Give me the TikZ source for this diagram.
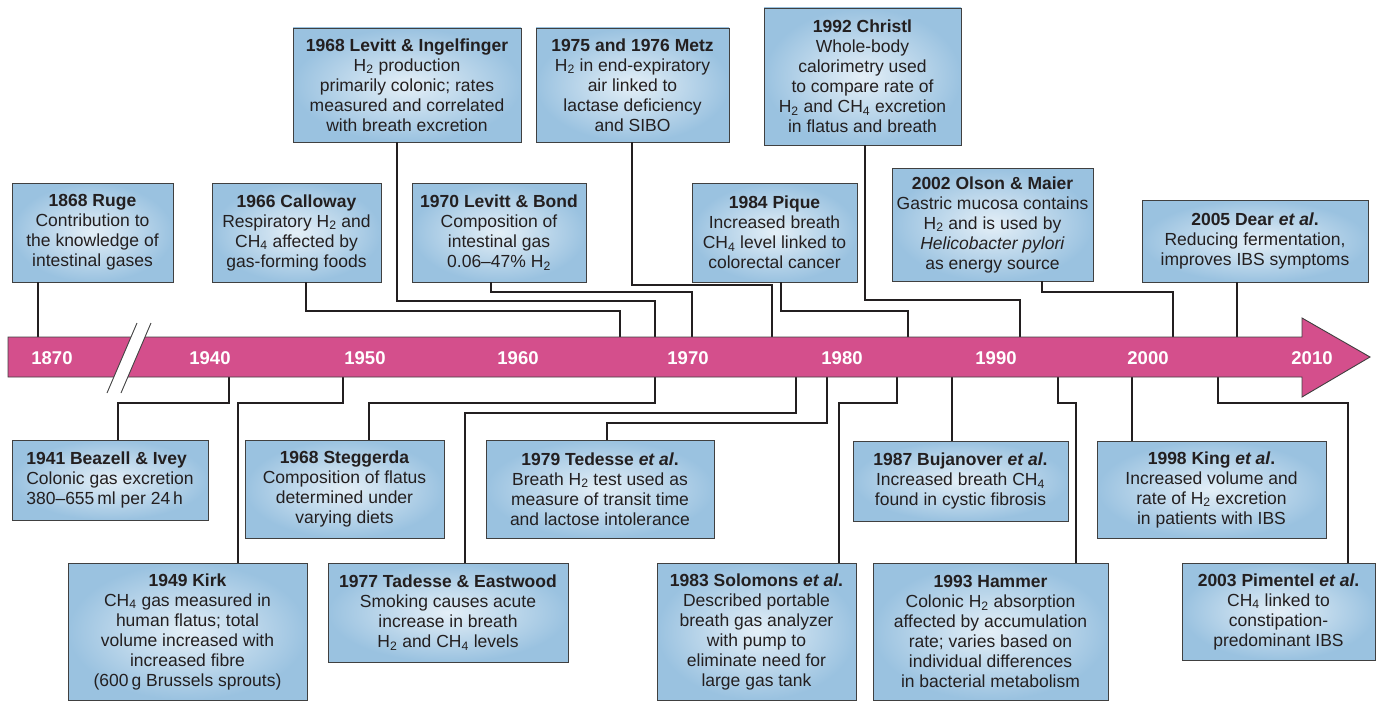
\documentclass[tikz,border=0pt]{standalone}
\usepackage{fontspec}
\setmainfont{Liberation Sans}
\usetikzlibrary{calc}
\definecolor{barpink}{RGB}{212,79,140}
\definecolor{boxout}{RGB}{154,194,224}
\definecolor{boxin}{RGB}{228,239,247}
\definecolor{edgegray}{RGB}{64,64,64}
\definecolor{ink}{RGB}{35,31,32}
\newcommand\subs[1]{\textsubscript{#1}}
\begin{document}
\begin{tikzpicture}[x=1pt,y=-1pt,
  evbox/.style={draw=edgegray, line width=0.9pt, inner color=boxin, outer color=boxout,
    align=center, text=ink, font=\fontsize{17.5}{20}\selectfont, inner sep=0pt},
  link/.style={draw=ink, line width=1.1pt},
  yearlbl/.style={text=white, font=\bfseries\fontsize{18.5}{20}\selectfont, inner sep=0pt}]
\useasboundingbox (0,0) rectangle (1378,701);

% ---------- top boxes ----------
\node[evbox, minimum width=161pt, minimum height=99pt] (ruge) at (92.5,232.5)
  {\textbf{1868 Ruge}\\Contribution to\\the knowledge of\\intestinal gases};
\node[evbox, minimum width=169pt, minimum height=99pt] (calloway) at (296.5,232.5)
  {\textbf{1966 Calloway}\\Respiratory H\subs{2} and\\CH\subs{4} affected by\\gas-forming foods};
\node[evbox, minimum width=228pt, minimum height=114pt] (levittI) at (407,85)
  {\textbf{1968 Levitt \& Ingelfinger}\\H\subs{2} production\\primarily colonic; rates\\measured and correlated\\with breath excretion};
\node[evbox, minimum width=174pt, minimum height=99pt] (levittB) at (499,232.5)
  {\textbf{1970 Levitt \& Bond}\\Composition of\\intestinal gas\\0.06–47\% H\subs{2}};
\node[evbox, minimum width=193pt, minimum height=114pt] (metz) at (632.5,85)
  {\textbf{1975 and 1976 Metz}\\H\subs{2} in end-expiratory\\air linked to\\lactase deficiency\\and SIBO};
\node[evbox, minimum width=165pt, minimum height=99pt] (pique) at (774.5,232.5)
  {\textbf{1984 Pique}\\Increased breath\\CH\subs{4} level linked to\\colorectal cancer};
\node[evbox, minimum width=197pt, minimum height=137pt] (christl) at (862.5,76.5)
  {\textbf{1992 Christl}\\Whole-body\\calorimetry used\\to compare rate of\\H\subs{2} and CH\subs{4} excretion\\in flatus and breath};
\node[evbox, minimum width=201pt, minimum height=113pt] (olson) at (992.5,224.5)
  {\textbf{2002 Olson \& Maier}\\Gastric mucosa contains\\H\subs{2} and is used by\\\textit{Helicobacter pylori}\\as energy source};
\node[evbox, minimum width=226pt, minimum height=82pt] (dear) at (1255,241)
  {\textbf{2005 Dear \textit{et al}.}\\Reducing fermentation,\\improves IBS symptoms};

% ---------- bottom boxes ----------
\node[evbox, align=left, minimum width=196pt, minimum height=80pt] (beazell) at (110,480)
  {\textbf{1941 Beazell \& Ivey}\\Colonic gas excretion\\380–655\,ml per 24\,h};
\node[evbox, minimum width=199pt, minimum height=98pt] (steggerda) at (344.5,489)
  {\textbf{1968 Steggerda}\\Composition of flatus\\determined under\\varying diets};
\node[evbox, minimum width=239pt, minimum height=137pt] (kirk) at (187.5,631.5)
  {\textbf{1949 Kirk}\\CH\subs{4} gas measured in\\human flatus; total\\volume increased with\\increased fibre\\(600\,g Brussels sprouts)};
\node[evbox, minimum width=240pt, minimum height=99pt] (tadeast) at (448,612.5)
  {\textbf{1977 Tadesse \& Eastwood}\\Smoking causes acute\\increase in breath\\H\subs{2} and CH\subs{4} levels};
\node[evbox, minimum width=228pt, minimum height=98pt] (tedesse) at (600,489)
  {\textbf{1979 Tedesse \textit{et al}.}\\Breath H\subs{2} test used as\\measure of transit time\\and lactose intolerance};
\node[evbox, minimum width=199pt, minimum height=137pt] (solomons) at (756.5,631.5)
  {\textbf{1983 Solomons \textit{et al}.}\\Described portable\\breath gas analyzer\\with pump to\\eliminate need for\\large gas tank};
\node[evbox, minimum width=215pt, minimum height=80pt] (bujanover) at (960.5,481)
  {\textbf{1987 Bujanover \textit{et al}.}\\Increased breath CH\subs{4}\\found in cystic fibrosis};
\node[evbox, minimum width=235pt, minimum height=137pt] (hammer) at (990.5,631.5)
  {\textbf{1993 Hammer}\\Colonic H\subs{2} absorption\\affected by accumulation\\rate; varies based on\\individual differences\\in bacterial metabolism};
\node[evbox, minimum width=229pt, minimum height=97pt] (king) at (1211.5,489.5)
  {\textbf{1998 King \textit{et al}.}\\Increased volume and\\rate of H\subs{2} excretion\\in patients with IBS};
\node[evbox, minimum width=193pt, minimum height=97pt] (pimentel) at (1278.5,611.5)
  {\textbf{2003 Pimentel \textit{et al}.}\\CH\subs{4} linked to\\constipation-\\predominant IBS};

% ---------- connector anchor points ----------
% top (bar top y=337)
\coordinate (bRuge) at (38,337);
\coordinate (eCal) at (306,311);   \coordinate (bCal) at (620,337);
\coordinate (eLevI) at (397,301);  \coordinate (bLevI) at (655,337);
\coordinate (eLevB) at (491,292);  \coordinate (bLevB) at (692,337);
\coordinate (eMetz) at (632,285);  \coordinate (bMetz) at (772,337);
\coordinate (ePiq) at (781,311);   \coordinate (bPiq) at (908,337);
\coordinate (eChr) at (865,300);   \coordinate (bChr) at (1020,337);
\coordinate (eOls) at (1042,292);  \coordinate (bOls) at (1173,337);
\coordinate (bDear) at (1237,337);
% bottom (bar bottom y=377)
\coordinate (eBea) at (118,403);   \coordinate (bBea) at (229,377);
\coordinate (eSte) at (369,403);   \coordinate (bSte) at (655,377);
\coordinate (eKirk) at (238,403);  \coordinate (bKirk) at (343,377);
\coordinate (eTE) at (465,413);    \coordinate (bTE) at (796,377);
\coordinate (eTed) at (607,423);   \coordinate (bTed) at (827,377);
\coordinate (eSol) at (839,403);   \coordinate (bSol) at (897,377);
\coordinate (bBuj) at (952,377);
\coordinate (eHam) at (1076,403);  \coordinate (bHam) at (1058,377);
\coordinate (bKing) at (1132,377);
\coordinate (ePim) at (1348,403);  \coordinate (bPim) at (1218,377);

% ---------- connectors ----------
\draw[link] (ruge.south -| bRuge) -- (bRuge);
\draw[link] (calloway.south -| eCal) -- (eCal) -| (bCal);
\draw[link] (levittI.south -| eLevI) -- (eLevI) -| (bLevI);
\draw[link] (levittB.south -| eLevB) -- (eLevB) -| (bLevB);
\draw[link] (metz.south -| eMetz) -- (eMetz) -| (bMetz);
\draw[link] (pique.south -| ePiq) -- (ePiq) -| (bPiq);
\draw[link] (christl.south -| eChr) -- (eChr) -| (bChr);
\draw[link] (olson.south -| eOls) -- (eOls) -| (bOls);
\draw[link] (dear.south -| bDear) -- (bDear);

\draw[link] (beazell.north -| eBea) -- (eBea) -| (bBea);
\draw[link] (steggerda.north -| eSte) -- (eSte) -| (bSte);
\draw[link] (kirk.north -| eKirk) -- (eKirk) -| (bKirk);
\draw[link] (tadeast.north -| eTE) -- (eTE) -| (bTE);
\draw[link] (tedesse.north -| eTed) -- (eTed) -| (bTed);
\draw[link] (solomons.north -| eSol) -- (eSol) -| (bSol);
\draw[link] (bujanover.north -| bBuj) -- (bBuj);
\draw[link] (hammer.north -| eHam) -- (eHam) -| (bHam);
\draw[link] (king.north -| bKing) -- (bKing);
\draw[link] (pimentel.north -| ePim) -- (ePim) -| (bPim);

% ---------- timeline arrow ----------
\path[fill=barpink, draw=edgegray, line width=0.9pt]
  (8,337) -- (1302,337) -- (1302,318) -- (1370,357) -- (1302,397) -- (1302,377) -- (8,377) -- cycle;
\fill[white] (107,393) -- (137,323) -- (151,323) -- (121,393) -- cycle;
\draw[edgegray, line width=0.9pt] (107,393) -- (137,323) (121,393) -- (151,323);

\node[yearlbl] (y1870) at (52,358) {1870};
\node[yearlbl] (y1940) at (210,358) {1940};
\node[yearlbl] (y1950) at (365,358) {1950};
\node[yearlbl] (y1960) at (518,358) {1960};
\node[yearlbl] (y1970) at (688,358) {1970};
\node[yearlbl] (y1980) at (842,358) {1980};
\node[yearlbl] (y1990) at (996,358) {1990};
\node[yearlbl] (y2000) at (1148,358) {2000};
\node[yearlbl] (y2010) at (1312,358) {2010};
\end{tikzpicture}
\end{document}
